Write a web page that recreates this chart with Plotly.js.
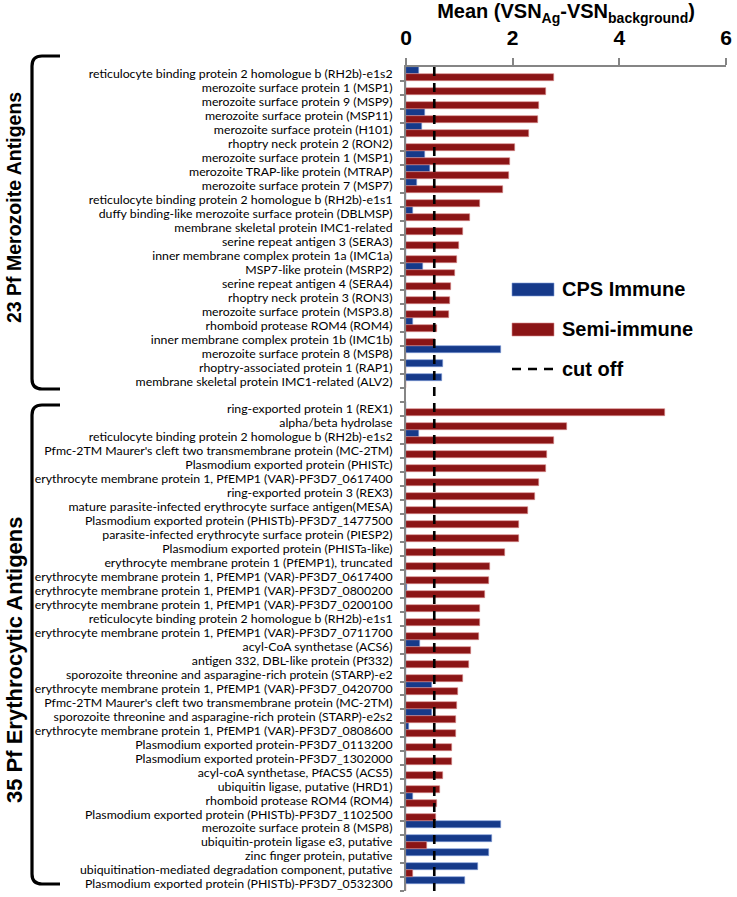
<!DOCTYPE html>
<html><head><meta charset="utf-8">
<script src="https://cdn.plot.ly/plotly-3.0.1.min.js"></script>
<style>html,body{margin:0;padding:0;background:#fff}#chart{width:737px;height:897px}</style>
</head><body><div id="chart"></div>
<script>
const merozoiteLabels = [
  'reticulocyte binding protein 2 homologue b (RH2b)-e1s2',
  'merozoite surface protein 1 (MSP1)',
  'merozoite surface protein 9 (MSP9)',
  'merozoite surface protein (MSP11)',
  'merozoite surface protein (H101)',
  'rhoptry neck protein 2 (RON2)',
  'merozoite surface protein 1 (MSP1)',
  'merozoite TRAP-like protein (MTRAP)',
  'merozoite surface protein 7 (MSP7)',
  'reticulocyte binding protein 2 homologue b (RH2b)-e1s1',
  'duffy binding-like merozoite surface protein (DBLMSP)',
  'membrane skeletal protein IMC1-related',
  'serine repeat antigen 3 (SERA3)',
  'inner membrane complex protein 1a (IMC1a)',
  'MSP7-like protein (MSRP2)',
  'serine repeat antigen 4 (SERA4)',
  'rhoptry neck protein 3 (RON3)',
  'merozoite surface protein (MSP3.8)',
  'rhomboid protease ROM4 (ROM4)',
  'inner membrane complex protein 1b (IMC1b)',
  'merozoite surface protein 8 (MSP8)',
  'rhoptry-associated protein 1 (RAP1)',
  'membrane skeletal protein IMC1-related (ALV2)'
];
const merozoiteCPS = [0.24, 0, 0, 0.36, 0.30, 0, 0.36, 0.45, 0.20, 0, 0.13, 0, 0, 0, 0.32, 0, 0, 0, 0.125, 0, 1.79, 0.70, 0.67];
const merozoiteSemi = [2.78, 2.62, 2.50, 2.47, 2.30, 2.05, 1.95, 1.93, 1.81, 1.39, 1.20, 1.06, 1.00, 0.955, 0.92, 0.84, 0.83, 0.80, 0.59, 0.54, 0, 0, 0];

const erythroLabels = [
  'ring-exported protein 1 (REX1)',
  'alpha/beta hydrolase',
  'reticulocyte binding protein 2 homologue b (RH2b)-e1s2',
  "Pfmc-2TM Maurer's cleft two transmembrane protein (MC-2TM)",
  'Plasmodium exported protein (PHISTc)',
  'erythrocyte membrane protein 1, PfEMP1 (VAR)-PF3D7_0617400',
  'ring-exported protein 3 (REX3)',
  'mature parasite-infected erythrocyte surface antigen(MESA)',
  'Plasmodium exported protein (PHISTb)-PF3D7_1477500',
  'parasite-infected erythrocyte surface protein (PIESP2)',
  'Plasmodium exported protein (PHISTa-like)',
  'erythrocyte membrane protein 1 (PfEMP1), truncated',
  'erythrocyte membrane protein 1, PfEMP1 (VAR)-PF3D7_0617400',
  'erythrocyte membrane protein 1, PfEMP1 (VAR)-PF3D7_0800200',
  'erythrocyte membrane protein 1, PfEMP1 (VAR)-PF3D7_0200100',
  'reticulocyte binding protein 2 homologue b (RH2b)-e1s1',
  'erythrocyte membrane protein 1, PfEMP1 (VAR)-PF3D7_0711700',
  'acyl-CoA synthetase (ACS6)',
  'antigen 332, DBL-like protein (Pf332)',
  'sporozoite threonine and asparagine-rich protein (STARP)-e2',
  'erythrocyte membrane protein 1, PfEMP1 (VAR)-PF3D7_0420700',
  "Pfmc-2TM Maurer's cleft two transmembrane protein (MC-2TM)",
  'sporozoite threonine and asparagine-rich protein (STARP)-e2s2',
  'erythrocyte membrane protein 1, PfEMP1 (VAR)-PF3D7_0808600',
  'Plasmodium exported protein-PF3D7_0113200',
  'Plasmodium exported protein-PF3D7_1302000',
  'acyl-coA synthetase, PfACS5 (ACS5)',
  'ubiquitin ligase, putative (HRD1)',
  'rhomboid protease ROM4 (ROM4)',
  'Plasmodium exported protein (PHISTb)-PF3D7_1102500',
  'merozoite surface protein 8 (MSP8)',
  'ubiquitin-protein ligase e3, putative',
  'zinc finger protein, putative',
  'ubiquitination-mediated degradation component, putative',
  'Plasmodium exported protein (PHISTb)-PF3D7_0532300'
];
const erythroCPS = [0, 0, 0.25, 0, 0, 0, 0, 0, 0, 0, 0, 0, 0, 0.025, 0, 0, 0, 0.27, 0, 0, 0.49, 0, 0.49, 0.06, 0, 0, 0, 0, 0.125, 0, 1.79, 1.62, 1.55, 1.35, 1.11];
const erythroSemi = [4.85, 3.02, 2.78, 2.65, 2.63, 2.49, 2.42, 2.29, 2.12, 2.11, 1.85, 1.57, 1.55, 1.49, 1.39, 1.39, 1.36, 1.22, 1.19, 1.07, 0.97, 0.955, 0.94, 0.93, 0.86, 0.855, 0.69, 0.63, 0.59, 0.555, 0, 0.40, 0, 0.14, 0];

const cutOff = 0.53;
const xTicks = [0, 2, 4, 6];
const groupNames = ['23 Pf Merozoite Antigens', '35 Pf Erythrocytic Antigens'];
const seriesNames = ['CPS Immune', 'Semi-immune', 'cut off'];

const BLUE = '#163a8a';
const RED = '#8b1516';
const GREY = '#858585';

// assemble categories (one blank row separates the two groups)
const labels = merozoiteLabels.concat([' '], erythroLabels);
const cps = merozoiteCPS.concat([null], erythroCPS);
const semi = merozoiteSemi.concat([null], erythroSemi);
const pos = labels.map((_, i) => i);
const bounds = labels.map((_, i) => i + 0.5);
const nCat = labels.length;

// plot-area geometry (pixels) for decorations
const L = 406, T = 67, W = 320, H = 824;
const px = x => (x - L) / W;
const py = y => (T + H - y) / H;

const traces = [
  {type: 'bar', orientation: 'h', name: seriesNames[0], y: pos, x: cps,
   marker: {color: BLUE, line: {color: '#7d9ad6', width: 0.6}}, hoverinfo: 'x'},
  {type: 'bar', orientation: 'h', name: seriesNames[1], y: pos, x: semi,
   marker: {color: RED, line: {color: '#d88c8c', width: 0.6}}, hoverinfo: 'x'},
  {type: 'scatter', mode: 'lines', name: seriesNames[2],
   x: [cutOff, cutOff], y: [-0.5, nCat - 0.5],
   line: {color: '#000', width: 2.6, dash: '9px,7px'}, hoverinfo: 'skip'}
];

function bracket(yTop, yBot) {
  const xv = 32, xh = 60, r = 10;
  return {type: 'path', xref: 'paper', yref: 'paper',
    path: `M ${px(xh)},${py(yTop)} L ${px(xv + r)},${py(yTop)} Q ${px(xv)},${py(yTop)} ${px(xv)},${py(yTop + r)} ` +
          `L ${px(xv)},${py(yBot - r)} Q ${px(xv)},${py(yBot)} ${px(xv + r)},${py(yBot)} L ${px(xh)},${py(yBot)}`,
    line: {color: '#000', width: 3.2}};
}

const shapes = [
  bracket(56, 389),
  bracket(405, 884),
  {type: 'rect', xref: 'paper', yref: 'paper', x0: px(512), x1: px(554), y0: py(296), y1: py(283),
   fillcolor: BLUE, line: {color: '#7d9ad6', width: 0.6}},
  {type: 'rect', xref: 'paper', yref: 'paper', x0: px(512), x1: px(554), y0: py(336), y1: py(323),
   fillcolor: RED, line: {color: '#d88c8c', width: 0.6}},
  {type: 'line', xref: 'paper', yref: 'paper', x0: px(512), x1: px(554), y0: py(369), y1: py(369),
   line: {color: '#000', width: 2.6, dash: '9px,7px'}}
];

const boldFont = s => ({family: 'Liberation Sans, Arial, sans-serif', size: s, color: '#000', weight: 'bold'});
const annotations = [
  {xref: 'paper', yref: 'paper', x: px(14), y: py(208), text: groupNames[0], textangle: -90,
   showarrow: false, xanchor: 'center', yanchor: 'middle', font: boldFont(19.5)},
  {xref: 'paper', yref: 'paper', x: px(14), y: py(660), text: groupNames[1], textangle: -90,
   showarrow: false, xanchor: 'center', yanchor: 'middle', font: boldFont(22)},
  {xref: 'paper', yref: 'paper', x: px(560), y: py(289), text: seriesNames[0], showarrow: false,
   xanchor: 'left', yanchor: 'middle', font: boldFont(20)},
  {xref: 'paper', yref: 'paper', x: px(560), y: py(329), text: seriesNames[1], showarrow: false,
   xanchor: 'left', yanchor: 'middle', font: boldFont(20)},
  {xref: 'paper', yref: 'paper', x: px(560), y: py(369), text: seriesNames[2], showarrow: false,
   xanchor: 'left', yanchor: 'middle', font: boldFont(20)}
];

const layout = {
  width: 737, height: 897,
  margin: {l: L, r: 737 - L - W, t: T, b: 897 - T - H, pad: 0},
  paper_bgcolor: '#fff', plot_bgcolor: '#fff',
  barmode: 'group', bargap: 0, bargroupgap: 0,
  showlegend: false,
  font: {family: 'Lato, sans-serif', color: '#000'},
  xaxis: {
    side: 'top', range: [0, 6], tickmode: 'array', tickvals: xTicks,
    ticks: 'outside', ticklen: 7, tickwidth: 1.5, tickcolor: GREY,
    showline: true, linecolor: GREY, linewidth: 2, showgrid: false, zeroline: false,
    ticklabelstandoff: 5,
    tickfont: boldFont(21),
    title: {text: 'Mean (VSN<sub>Ag</sub>-VSN<sub>background</sub>)', standoff: 0, font: boldFont(20)},
    automargin: false, fixedrange: true
  },
  yaxis: {
    range: [nCat - 0.5, -0.5], tickmode: 'array', tickvals: pos, ticktext: labels,
    ticks: '', showline: true, linecolor: GREY, linewidth: 2, showgrid: false, zeroline: false,
    ticklabelstandoff: 9,
    tickfont: {family: 'Lato, sans-serif', size: 12.3, color: '#000'},
    minor: {tickmode: 'array', tickvals: bounds, ticks: 'outside', ticklen: 4, tickwidth: 1.5, tickcolor: GREY, showgrid: false},
    automargin: false, fixedrange: true
  },
  shapes: shapes,
  annotations: annotations
};

Plotly.newPlot('chart', traces, layout, {displayModeBar: false, responsive: false});
</script>
</body></html>
